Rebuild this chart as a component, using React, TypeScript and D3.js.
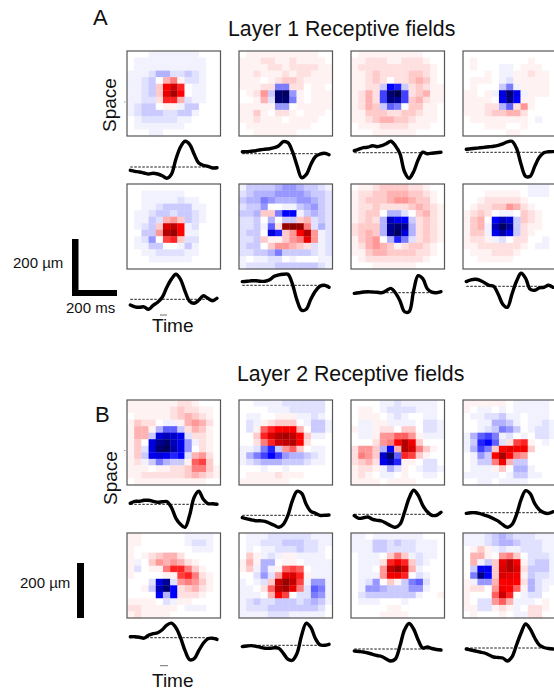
import React, { useEffect, useRef } from 'react'
import * as d3 from 'd3'

// receptive field values, 13x13 per cell, -20 (dark blue) .. 20 (dark red)
const field1 = [
  [0,0,0,-1,-1,-1,-1,-1,-1,-1,0,0,0],[0,-1,-1,-1,-1,-1,-1,-1,-1,-1,-1,0,0],[0,-1,-1,-1,-1,-1,-1,-1,-1,-1,-1,0,0],
  [-1,-1,-1,-2,-4,-4,-2,-2,-3,-2,-1,0,0],[-1,-1,-2,-3,0,4,6,1,-2,-2,-1,0,0],[-1,-1,-2,-3,3,10,14,9,0,-1,-1,0,0],
  [-1,-1,-2,-3,3,12,17,10,0,-1,-1,0,0],[-1,-1,-2,-2,2,9,9,4,-2,-1,-1,0,0],[-1,-2,-3,-3,0,1,1,-1,-3,-3,0,0,0],
  [-1,-2,-3,-3,-3,-2,-2,-3,-3,-1,0,0,0],[0,-1,-2,-2,-2,-2,-2,-1,-1,0,0,0,0],[0,-1,-1,-1,-1,-1,-1,-1,0,0,0,0,0],
  [0,0,0,-1,-1,0,0,0,0,0,0,0,0],
]
const field2 = [
  [0,1,1,1,1,1,1,1,1,1,1,0,0],[1,1,1,2,2,1,1,2,1,1,1,1,0],[1,1,1,1,2,2,1,2,2,2,2,1,1],
  [1,1,2,1,1,1,2,1,2,2,1,1,1],[1,1,1,0,1,2,3,3,2,1,1,1,1],[1,1,1,2,2,-6,-6,2,2,0,1,1,0],
  [0,1,2,5,-3,-18,-19,-5,1,0,1,1,1],[0,0,1,4,-2,-18,-18,-6,1,0,1,1,1],[1,1,1,1,1,-5,-5,0,1,1,1,1,1],
  [1,1,3,1,0,2,2,1,0,1,1,1,0],[1,1,2,1,1,1,0,1,1,1,1,0,0],[0,1,1,1,1,1,1,1,1,1,0,0,0],
  [0,0,1,1,1,1,1,1,0,0,0,0,0],
]
const field3 = [
  [0,1,1,1,1,1,1,1,1,1,0,0,0],[1,1,2,2,2,1,1,2,2,2,1,0,0],[1,2,2,2,2,2,2,2,2,2,2,1,0],
  [1,1,2,3,2,2,2,2,3,3,2,1,0],[1,1,2,3,2,0,2,2,3,4,3,1,0],[1,1,2,2,-3,-10,-9,-3,2,3,2,1,1],
  [1,2,4,2,-8,-18,-20,-8,2,3,4,1,1],[1,2,4,2,-8,-17,-16,-8,3,4,2,1,1],[1,2,4,3,-3,-7,-6,0,3,3,1,1,0],
  [1,1,3,3,3,2,2,3,3,2,1,1,0],[1,1,2,3,4,4,3,3,2,1,1,1,0],[0,1,1,1,2,2,2,2,1,1,1,0,0],
  [0,0,0,1,1,1,1,1,1,0,0,0,0],
]
const field4 = [
  [0,0,0,0,0,0,0,0,0,0,0,0,0],[0,1,0,0,0,0,0,0,0,1,0,0,0],[0,1,0,0,0,-1,-1,0,1,1,1,0,0],
  [0,0,0,1,0,-1,-1,1,1,2,1,1,0],[0,1,1,1,0,-1,-2,1,1,1,1,1,0],[0,1,0,0,0,-3,-6,-1,1,1,1,1,0],
  [1,1,0,1,-1,-12,-18,-11,-1,1,1,1,0],[1,1,1,1,0,-11,-17,-10,1,1,0,0,0],[1,1,1,2,2,-4,-7,2,5,1,0,0,0],
  [1,1,1,2,3,3,4,4,2,0,0,0,0],[0,1,1,1,1,1,1,1,1,0,-1,0,0],[0,0,0,1,1,1,0,0,1,0,0,0,0],
  [0,0,0,0,0,0,1,1,0,0,0,0,0],
]
const field5 = [
  [0,0,0,0,0,0,0,0,0,0,0,0,0],[0,0,-1,-1,-1,-1,-1,-1,0,0,0,0,0],[0,0,-1,-1,-1,-1,-1,-2,-1,-1,0,0,0],
  [0,0,-1,-1,-2,-3,-3,-3,-3,-1,-1,0,0],[0,-1,-1,-2,-3,-3,-2,-3,-3,-2,-1,0,0],[0,-1,-1,-3,-2,4,5,3,-3,-2,-1,0,0],
  [0,-1,-2,-3,3,13,15,10,-1,-2,0,0,0],[0,0,-3,-3,5,16,18,10,-1,-1,0,0,0],[0,-1,-2,-5,0,8,9,3,-2,-2,0,0,0],
  [0,-1,-1,-3,-3,0,0,-1,-3,-1,0,0,0],[0,0,-1,-1,-2,-2,-2,-2,-1,-1,0,0,0],[0,0,0,-1,-1,-1,-1,-1,-1,0,0,0,0],
  [0,0,0,0,0,0,0,0,0,0,0,0,0],
]
const field6 = [
  [-1,-3,-3,-3,-3,-4,-5,-5,-4,-3,-3,-2,-1],[-2,-3,-4,-4,-4,-5,-5,-5,-5,-4,-3,-3,-2],[-3,-4,-4,-6,-5,-4,-4,-4,-5,-5,-4,-3,-2],
  [-2,-3,-3,-5,0,0,-1,-1,-3,-4,-5,-3,-2],[-3,-3,-4,3,3,-6,-10,-10,-1,-3,-4,-3,-2],[-2,-2,-3,0,-4,0,-3,-3,3,4,-2,-3,-2],
  [-2,-2,-3,-1,-7,2,18,19,18,6,-2,-4,-2],[-2,-3,-3,0,-12,-9,3,5,10,16,5,-1,-2],[-2,-2,-3,3,1,1,3,5,6,12,5,-1,-2],
  [-2,-3,-3,0,3,5,5,4,3,2,-2,-1,-2],[-2,-2,-3,-3,-4,-6,-3,-3,-3,-3,-2,-1,-2],[-1,0,-1,-1,-2,-2,0,-1,0,0,0,-1,-1],
  [-1,-2,-2,-2,-2,-3,-3,-3,-3,-3,-3,-2,-1],
]
const field7 = [
  [0,1,1,2,3,3,3,3,2,2,1,0,0],[1,2,2,3,3,4,4,4,3,3,2,1,0],[1,2,3,3,3,4,5,5,4,3,3,1,0],
  [1,2,2,3,2,2,2,2,3,4,3,2,1],[1,2,3,3,0,-4,-4,-2,0,3,4,2,1],[1,2,3,2,-4,-14,-11,-10,-3,2,3,2,1],
  [2,3,3,3,-4,-16,-18,-16,-4,2,3,2,1],[2,3,4,3,-4,-16,-19,-12,-4,2,3,2,1],[1,3,4,5,0,-4,-9,-6,-2,2,3,2,1],
  [1,2,4,5,4,3,1,2,3,3,2,1,0],[1,1,3,4,4,3,3,3,3,2,2,1,0],[0,1,2,2,2,2,2,2,2,2,1,0,0],
  [0,0,0,1,1,1,1,1,1,0,0,0,0],
]
const field8 = [
  [0,0,0,0,0,0,0,0,0,-1,-1,-1,0],[0,0,0,1,1,1,1,1,0,-1,-1,-1,0],[0,0,1,2,2,2,2,2,1,0,0,0,0],
  [0,1,2,2,3,3,5,4,2,1,0,0,0],[1,2,3,2,0,-1,-1,0,3,2,1,0,0],[1,3,4,0,-10,-14,-12,-3,3,2,1,0,0],
  [1,3,4,-1,-14,-19,-15,-3,2,1,1,0,0],[1,3,3,-1,-11,-15,-11,-3,2,1,0,0,0],[1,2,2,1,-1,-2,0,2,2,0,0,-1,0],
  [1,1,2,2,2,2,2,2,1,0,-1,-1,0],[0,1,1,1,2,2,2,1,0,0,0,0,0],[0,0,1,1,1,1,1,0,0,0,0,0,0],
  [0,0,0,0,0,0,0,0,0,0,0,0,0],
]
const field9 = [
  [1,1,1,1,1,1,1,2,2,1,0,0,0],[1,1,1,1,1,1,2,3,2,2,1,1,0],[0,1,1,1,1,1,2,3,4,3,2,1,0],
  [1,3,2,2,0,-1,-1,1,4,5,4,2,0],[1,4,4,1,-4,-7,-7,-3,2,4,3,1,0],[1,4,4,-3,-12,-14,-13,-11,-2,2,2,1,0],
  [1,3,0,-12,-16,-18,-14,-11,-5,-1,2,1,0],[1,3,-2,-12,-18,-19,-15,-11,-5,0,2,1,0],[1,3,-3,-11,-12,-11,-9,-10,-2,4,5,2,0],
  [1,2,-1,-3,-6,-4,-3,-3,1,7,8,3,0],[1,1,1,0,1,1,2,2,3,6,6,3,1],[1,1,2,2,2,2,2,2,3,4,3,2,1],
  [0,1,1,1,1,1,1,1,1,1,1,0,0],
]
const field10 = [
  [0,0,-1,-1,-1,-1,-2,-2,-2,-2,-2,-2,0],[0,0,0,0,-1,-1,-1,-2,-2,-2,-2,-2,0],[0,-1,-1,0,0,1,1,1,-1,-1,-2,-1,0],
  [0,-2,-1,1,2,3,3,3,0,-1,-3,-3,-1],[0,-2,1,7,9,10,11,10,4,0,-3,-3,-1],[0,0,3,9,13,16,17,15,10,3,-1,-1,0],
  [0,0,2,6,9,14,15,16,10,2,0,0,0],[-1,-1,-2,-6,-9,-3,5,7,3,0,-1,-1,0],[-1,-4,-6,-8,-10,-8,-5,-4,-4,-3,-2,-1,0],
  [-1,-2,-3,-4,-4,-4,-3,-3,-3,-2,-1,-1,0],[0,0,0,-1,0,0,-1,0,0,0,0,0,0],[0,1,1,1,1,2,1,1,1,0,0,0,0],
  [1,1,1,1,1,1,1,0,0,0,0,0,0],
]
const field11 = [
  [0,0,0,0,-1,-1,-2,-1,-1,-1,-1,-1,0],[0,1,1,0,-1,-2,-2,-2,-2,-1,-1,-1,0],[0,1,1,1,0,-1,-2,-1,0,0,-1,-1,0],
  [0,-1,-1,1,1,-1,-1,-1,-1,0,-2,-2,-1],[1,-1,-1,1,2,2,0,3,3,0,-2,-2,-1],[0,-1,-1,1,5,5,7,7,5,1,-1,-1,-1],
  [0,0,0,2,5,6,10,16,11,3,0,0,0],[2,5,5,3,-4,-10,4,16,13,6,3,1,0],[2,6,5,3,-13,-19,-7,9,8,3,1,0,0],
  [2,3,4,2,-11,-14,-9,1,1,0,-2,-2,0],[1,2,2,1,-1,-4,-2,1,0,-1,-2,-2,-1],[1,2,1,0,-1,-1,0,1,0,0,-1,-1,0],
  [1,1,1,1,0,1,1,1,1,0,0,0,0],
]
const field12 = [
  [1,1,1,1,1,1,0,-1,-1,-1,-1,-1,0],[1,0,-1,-1,0,-1,0,-1,-1,-1,-1,-1,0],[0,-1,-1,-2,-2,-3,-1,-1,0,-1,-1,-1,0],
  [0,0,-1,-1,-4,-4,-3,-1,0,-1,-1,-2,-1],[0,0,-1,-2,-3,-6,-5,-3,0,-1,-2,-2,-1],[-1,-4,-7,-8,-6,-1,-2,0,-1,0,-2,-2,-1],
  [-1,-3,-9,-10,-7,-2,2,8,9,1,0,-1,0],[-1,-4,-8,-6,3,10,12,11,11,3,0,0,0],[0,-1,-5,-3,10,17,10,6,5,0,0,0,0],
  [0,-1,-3,-3,6,11,4,-3,-3,0,0,0,0],[0,-1,-1,-1,1,3,0,-4,-4,-1,0,0,0],[-1,-1,-1,-1,-1,0,-1,-3,-3,-1,-1,0,0],
  [0,0,-1,-1,0,-1,-1,-1,-1,0,0,0,0],
]
const field13 = [
  [1,1,0,0,0,0,0,0,-1,-1,-1,-1,0],[1,1,0,0,0,0,0,0,-1,-2,-2,-1,0],[1,0,0,0,0,0,0,0,0,-1,-1,-1,0],
  [1,0,1,2,3,4,4,2,0,0,0,0,0],[1,-1,0,3,5,4,5,4,2,1,0,0,0],[1,-2,0,1,1,6,9,9,6,3,1,0,0],
  [1,0,0,0,0,1,1,8,9,6,2,1,0],[0,0,0,-2,-12,-16,-2,5,6,5,3,1,0],[0,0,1,-3,-14,-18,-10,2,3,4,2,1,0],
  [0,0,0,0,-10,-4,-10,2,2,2,1,0,0],[1,1,1,1,0,-2,-1,1,1,0,0,0,0],[2,2,1,1,1,1,1,0,-1,-1,-1,0,0],
  [1,2,1,1,1,1,0,0,0,0,0,0,0],
]
const field14 = [
  [0,-1,-1,-1,-2,-2,-2,-2,-2,-2,-1,-1,-1],[0,-1,-1,-2,-2,-2,-3,-3,-3,-2,-2,-1,-1],[0,-1,0,-1,-1,-2,-2,-2,-3,-2,-2,-1,0],
  [0,3,1,-1,-2,-1,1,1,-1,-1,-1,-1,0],[1,4,1,-4,-4,0,1,1,0,-1,-1,-1,-1],[1,3,-1,-4,-1,1,7,8,7,0,-1,-1,-1],
  [0,0,-2,-5,-2,5,12,13,9,1,-1,-1,-1],[-1,0,-1,-2,3,14,18,15,8,-1,-5,-5,-1],[-1,-1,0,2,7,15,17,12,6,-2,-7,-6,-1],
  [-1,-1,-1,0,4,10,8,0,-2,-2,-6,-5,-1],[-1,-2,-3,-2,-2,-3,-3,-3,-2,-3,-4,-3,-1],[-1,-2,-2,-2,-3,-3,-3,-3,-3,-3,-3,-2,0],
  [-1,-1,-1,-1,-2,-2,-2,-1,-1,-1,-1,-1,0],
]
const field15 = [
  [-1,-1,0,-1,-1,-1,-1,-1,-1,-1,0,0,0],[-1,-1,-1,-3,-3,-2,-3,-2,-2,-1,-1,-1,0],[-1,-1,-1,-3,-3,-2,-2,-2,-2,-1,-1,-1,0],
  [0,-1,-1,-1,0,3,6,3,-1,-2,-1,-1,0],[0,-1,-1,-1,2,9,11,9,3,-2,-1,0,0],[0,-1,-1,0,5,15,18,14,4,-1,0,0,0],
  [0,-1,-1,-1,5,11,11,9,0,-2,-1,0,0],[0,-1,-2,-5,0,3,1,-3,-6,-7,-2,0,0],[0,-1,-5,-5,-4,-3,-3,-3,-5,-5,-1,0,0],
  [0,-2,-3,-3,-3,-3,-3,-3,-3,-1,0,0,1],[0,-1,-1,-1,0,0,0,-1,0,0,0,0,0],[0,0,0,0,0,1,1,0,0,0,0,0,0],
  [0,0,0,0,1,1,1,1,0,0,0,0,0],
]
const field16 = [
  [-1,-1,-1,-2,-3,-4,-3,-2,-2,-2,-1,-1,-1],[-1,-1,-1,-2,-3,-4,-4,-3,-2,-2,-2,-1,-1],[0,1,3,1,-1,-2,-1,-1,-2,-2,-2,-1,-1],
  [0,4,4,1,0,5,6,3,0,-2,-2,-2,-1],[0,4,-1,-3,3,12,16,11,1,-2,-3,-3,-1],[0,-3,-11,-11,3,13,16,13,2,-3,-3,-3,-1],
  [0,-6,-17,-10,3,13,12,11,1,-3,-2,-2,-1],[1,-1,-5,-5,4,10,11,10,2,-4,-2,-1,-1],[1,2,2,0,5,11,10,7,1,-4,-2,-1,0],
  [1,0,0,0,7,14,9,0,-1,-2,-2,0,0],[1,0,-2,-2,5,7,4,-1,-1,-1,0,1,0],[1,1,-2,-2,1,2,1,-1,0,2,2,1,0],
  [0,1,0,0,0,1,0,-1,-1,2,2,0,0],
]
const fields = [field1,field2,field3,field4,field5,field6,field7,field8,field9,field10,field11,field12,field13,field14,field15,field16]

// temporal kernels, 20 samples each
const trace1 = [-3.3,-4.3,-5,-6,-7,-6.3,-7,-8.7,-11.3,-7.3,8,20,25.7,22.7,12.7,4,1.7,.7,-1,-.7]
const trace2 = [2,2,2.5,3,4,4.5,5,6,8,12,11,2,-12,-24,-21,-11,-3,-.5,.5,-1]
const trace3 = [2,3.5,5,5.5,7,6,7,9,11.5,7,-1,-19,-25.5,-19,-7,.5,-1,-.5,0,.5]
const trace4 = [3,3.5,4,4.5,5,5.5,6,7,8.5,10.5,11,4,-12,-24,-24,-14,-5,-.5,.5,.7]
const trace5 = [-5.7,-7.5,-8,-7.5,-10,-6,-3,2,12,20,25,20,8,-2,-4,-1,3.5,1,-1.5,1]
const trace6 = [3.7,4,4.5,4.5,4,4,5.5,9,10.5,11,11,1,-15,-25,-24,-14,-6,-1,0,-2]
const trace7 = [-.7,0,.7,1,.7,.5,0,2,4.3,0,-8,-19,-19,2,17,14,4,.5,0,1]
const trace8 = [4.7,6.5,7,6,3.5,1,0,-8,-18,-21,-8,5,13,8,-3,-4,-1.5,-1,1,-1]
const trace9 = [1,3,3,4,4,3,2,2.5,2.7,-3,-14,-20,-23,-11,7,13,5,.7,.5,0]
const trace10 = [-2.3,-3.5,-4.5,-5.5,-5.5,-6,-8,-10,-12,-9,0,15,24,22,11,4,2,0,0,.3]
const trace11 = [-1.3,-4,-3.5,-2.7,-5,-6,-6.7,-9,-11.5,-13,-10,2,16,24,19,9,2.5,-1,-1,2]
const trace12 = [-.7,0,0,-1,-2.5,-4,-6,-8.5,-12,-14.5,-12,-2,13,22,19,9,3,0,-.7,1]
const trace13 = [1,1,.5,-.5,2.5,4,5,8,12.5,14.5,10,0,-13,-22,-21,-13,-5.5,-1,-.5,-1.7]
const trace14 = [-1.3,-.7,-.3,-1,-2,-3,-3,-2.5,-3,-8,-14,-15,-8,10,22,18,7,.5,0,1]
const trace15 = [-2,-2.5,-3,-4,-5.3,-6.5,-7.5,-10,-12,-10,3,19,25.5,20,9,1,2,.5,-.5,-1]
const trace16 = [-1,-2,-3,-4,-5,-7,-9,-9.5,-10,-13,-9,3,15,24,19,10,3,.5,-.5,-1]
const traces = [trace1,trace2,trace3,trace4,trace5,trace6,trace7,trace8,trace9,trace10,trace11,trace12,trace13,trace14,trace15,trace16]

// page layout
const colX = [127, 239, 351, 463]
const rowY = [51, 184, 400, 533]
const baselines = [167,153.7,152.7,152.3,299.3,285.3,292.7,286.3,504.3,515.3,514.3,512.7,637.7,645.3,649,648]
const cellIdx = d3.range(13)
const panelW = 93.5
const panelH = 85
const sans = '"Liberation Sans", Arial, sans-serif'

const labels = [
  { t: 'A', x: 93, y: 25, s: 22 },
  { t: 'B', x: 95, y: 422, s: 22 },
  { t: 'Layer 1 Receptive fields', x: 228, y: 36, s: 21.3 },
  { t: 'Layer 2 Receptive fields', x: 237, y: 381, s: 21.3 },
  { t: '200 µm', x: 13, y: 267.5, s: 15 },
  { t: '200 ms', x: 66, y: 313, s: 15 },
  { t: '200 µm', x: 20, y: 588, s: 15 },
  { t: 'Time', x: 152, y: 332, s: 19 },
  { t: 'Time', x: 152, y: 687, s: 19 },
]

const App = () => {
  const ref = useRef<SVGSVGElement>(null)

  useEffect(() => {
    const svg = d3.select(ref.current)
    svg.selectAll('*').remove()

    // same stops as matplotlib's seismic colormap
    const seismic = d3.scaleLinear<string>()
      .domain([-20, -10, 0, 10, 20])
      .range(['#00004d', '#0000ff', '#ffffff', '#ff0000', '#800000'])
    // pale cells are much paler than a straight ramp gives
    const soften = d3.scalePow().exponent(1.3).domain([0, 10]).range([0, 10])
    const color = (v: number) => {
      const a = Math.abs(v)
      return seismic(Math.sign(v) * (a < 10 ? soften(a) : a))
    }

    const defs = svg.append('defs')
    defs.append('filter')
      .attr('id', 'soft')
      .attr('x', '-2%').attr('y', '-2%')
      .attr('width', '104%').attr('height', '104%')
      .append('feGaussianBlur')
      .attr('stdDeviation', 0.45)

    const trY = d3.scaleLinear().domain([-30, 30]).range([30, -30])

    fields.forEach((field, i) => {
      const px = colX[i % 4]
      const py = rowY[Math.floor(i / 4)]
      const x = d3.scaleBand<number>().domain(cellIdx).range([px, px + panelW])
      const y = d3.scaleBand<number>().domain(cellIdx).range([py, py + panelH])

      const g = svg.append('g').attr('filter', 'url(#soft)')
      field.forEach((row, r) => {
        g.selectAll(null)
          .data(row)
          .enter()
          .append('rect')
          .attr('x', (_, c) => x(c) as number)
          .attr('y', y(r) as number)
          .attr('width', x.bandwidth() + 0.3)
          .attr('height', y.bandwidth() + 0.3)
          .attr('fill', (d) => color(d))
      })
      svg.append('rect')
        .attr('x', px).attr('y', py)
        .attr('width', panelW).attr('height', panelH)
        .attr('fill', 'none')
        .attr('stroke', '#555')
        .attr('stroke-width', 1.2)

      // temporal kernel under the panel
      const base = baselines[i]
      const tx = d3.scaleLinear().domain([0, 19]).range([px + 3.3, px + 90])
      svg.append('line')
        .attr('x1', tx(0)).attr('x2', tx(19))
        .attr('y1', base).attr('y2', base)
        .attr('stroke', '#000')
        .attr('stroke-width', 0.9)
        .attr('stroke-dasharray', '2.5,1.5')
      const line = d3.line<number>()
        .x((_, k) => tx(k))
        .y((d) => base + trY(d))
        .curve(d3.curveCatmullRom)
      svg.append('path')
        .attr('d', line(traces[i]))
        .attr('fill', 'none')
        .attr('stroke', '#000')
        .attr('stroke-width', 3.4)
        .attr('stroke-linecap', 'round')
        .attr('stroke-linejoin', 'round')
    })

    // scale bars
    svg.append('rect').attr('x', 72).attr('y', 239).attr('width', 6.5).attr('height', 57).attr('fill', '#000')
    svg.append('rect').attr('x', 72).attr('y', 290).attr('width', 45).attr('height', 6).attr('fill', '#000')
    svg.append('rect').attr('x', 77).attr('y', 563).attr('width', 7).attr('height', 55).attr('fill', '#000')

    // small stray marks in the original figure
    const marks = [[160, 167, 315], [160, 168, 665.7], [124.3, 125.3, 102], [124.3, 125.3, 450.5]]
    marks.forEach((m) => {
      svg.append('line')
        .attr('x1', m[0]).attr('x2', m[1])
        .attr('y1', m[2]).attr('y2', m[2])
        .attr('stroke', '#333')
        .attr('stroke-width', 0.7)
    })

    svg.selectAll(null)
      .data(labels)
      .enter()
      .append('text')
      .attr('x', (d) => d.x)
      .attr('y', (d) => d.y)
      .attr('font-family', sans)
      .attr('font-size', (d) => d.s)
      .attr('fill', '#111')
      .text((d) => d.t)

    const spaces = [[116, 105], [117, 478]]
    spaces.forEach((p) => {
      svg.append('text')
        .attr('transform', `translate(${p[0]},${p[1]}) rotate(-90)`)
        .attr('text-anchor', 'middle')
        .attr('font-family', sans)
        .attr('font-size', 19)
        .attr('fill', '#111')
        .text('Space')
    })
  }, [])

  return (
    <svg ref={ref} width={554} height={694} style={{ position: 'absolute', left: 0, top: 0, background: '#fff' }}></svg>
  )
}

export default App
